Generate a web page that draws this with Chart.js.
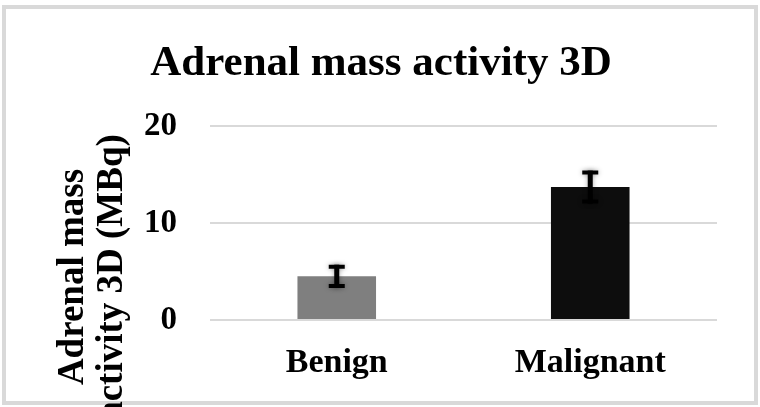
<!DOCTYPE html>
<html>
<head>
<meta charset="utf-8">
<script src="https://cdn.jsdelivr.net/npm/chart.js@4/dist/chart.umd.min.js"></script>
<style>
  html, body { margin: 0; padding: 0; background: #fff; }
  #wrap { width: 760px; height: 407px; }
</style>
</head>
<body>
<div id="wrap"><canvas id="chart" width="760" height="407"></canvas></div>
<script>
// data
const categories = ['Benign', 'Malignant'];
const activity = [4.5, 13.7];
const errors = [1.2, 1.7];
const barColors = ['#7f7f7f', '#0d0d0d'];
const yTicks = [0, 10, 20];

const chartTitle = 'Adrenal mass activity 3D';
const yTitle = ['Adrenal mass', 'activity 3D (MBq)'];
const serif = '"Liberation Serif", "Times New Roman", serif';

// frame round the whole picture + white background
const framePlugin = {
  id: 'frame',
  beforeDraw(chart) {
    let ctx = chart.ctx;
    ctx.save();
    ctx.fillStyle = '#fff';
    ctx.fillRect(0, 0, chart.width, chart.height);
    ctx.strokeStyle = '#d9d9d9';
    ctx.lineWidth = 4;
    ctx.strokeRect(4, 7, 752, 396);
    ctx.restore();
  }
};

// title and the two line y title, placed like the original
const textPlugin = {
  id: 'texts',
  afterDraw(chart) {
    let ctx = chart.ctx;
    ctx.save();
    ctx.fillStyle = '#000';
    ctx.font = 'bold 43px ' + serif;
    ctx.textAlign = 'center';
    ctx.textBaseline = 'alphabetic';
    ctx.fillText(chartTitle, 381, 75);

    ctx.font = 'bold 37px ' + serif;
    let xs = [83, 122];
    yTitle.forEach((line, i) => {
      ctx.save();
      ctx.translate(xs[i], 277);
      ctx.rotate(-Math.PI / 2);
      ctx.fillText(line, 0, 0);
      ctx.restore();
    });
    ctx.restore();
  }
};

// I-beam error bars, positioned through the chart's scales
const errorPlugin = {
  id: 'errbars',
  afterDatasetsDraw(chart) {
    let ctx = chart.ctx;
    let yScale = chart.scales.y;
    let meta = chart.getDatasetMeta(0);
    ctx.save();
    ctx.strokeStyle = '#000';
    ctx.shadowColor = 'rgba(0,0,0,0.35)';
    ctx.shadowBlur = 5;
    meta.data.forEach((bar, i) => {
      let v = activity[i], e = errors[i];
      let top = yScale.getPixelForValue(v + e);
      let bot = yScale.getPixelForValue(v - e);
      let x = bar.x;
      ctx.lineWidth = 5;
      ctx.beginPath();
      ctx.moveTo(x, top);
      ctx.lineTo(x, bot);
      ctx.stroke();
      ctx.lineWidth = 4;
      ctx.beginPath();
      ctx.moveTo(x - 8, top + 2);
      ctx.lineTo(x + 8, top + 2);
      ctx.moveTo(x - 8, bot - 2);
      ctx.lineTo(x + 8, bot - 2);
      ctx.stroke();
    });
    ctx.restore();
  }
};

new Chart(document.getElementById('chart'), {
  type: 'bar',
  data: {
    labels: categories,
    datasets: [{
      data: activity,
      backgroundColor: barColors,
      borderWidth: 0,
      barPercentage: 0.31,
      categoryPercentage: 1
    }]
  },
  options: {
    responsive: false,
    animation: false,
    devicePixelRatio: 1,
    layout: { padding: { top: 126, right: 43, left: 0, bottom: 0 } },
    plugins: {
      legend: { display: false },
      title: { display: false },
      tooltip: { enabled: false }
    },
    scales: {
      x: {
        grid: { display: false, drawTicks: false },
        border: { display: false },
        ticks: {
          color: '#000',
          padding: 23,
          font: { family: serif, size: 34, weight: 'bold' }
        },
        afterFit(scale) { scale.height = 87; }
      },
      y: {
        min: 0,
        max: 20,
        afterBuildTicks(scale) { scale.ticks = yTicks.map(v => ({ value: v })); },
        grid: { color: '#d9d9d9', lineWidth: 2, drawTicks: false },
        border: { display: false },
        ticks: {
          color: '#000',
          padding: 33,
          font: { family: serif, size: 33, weight: 'bold' }
        },
        afterFit(scale) { scale.width = 210; }
      }
    }
  },
  plugins: [framePlugin, textPlugin, errorPlugin]
});
</script>
</body>
</html>
